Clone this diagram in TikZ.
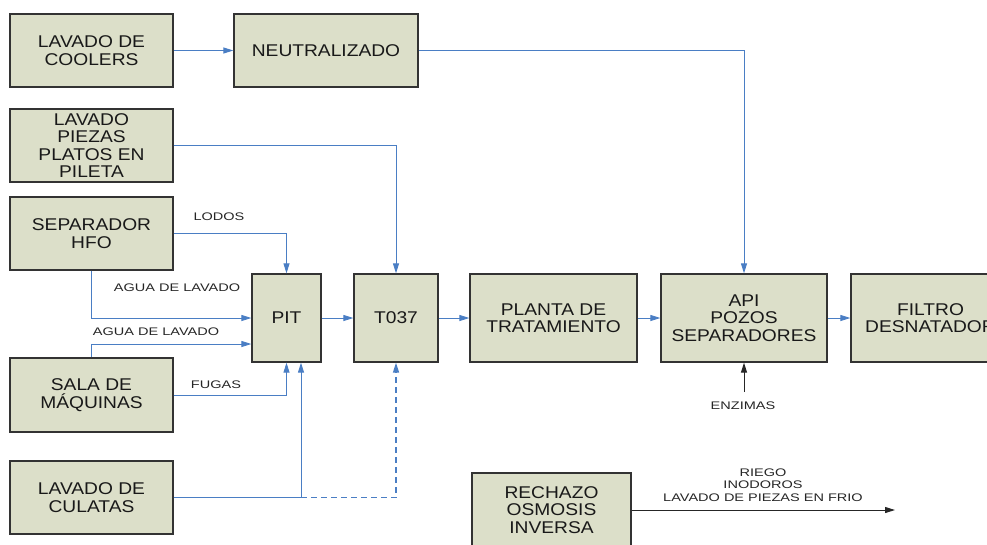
\documentclass[tikz,border=0pt]{standalone}
\usepackage{fontspec}
\setmainfont{Liberation Sans}
\newfontfamily\boxfont{Liberation Sans}[FakeStretch=1.13]
\newfontfamily\lblfont{Liberation Sans}[FakeStretch=1.32]
\usetikzlibrary{arrows.meta}
\definecolor{boxfill}{HTML}{DCDFC9}
\definecolor{boxline}{HTML}{333333}
\definecolor{flowblue}{HTML}{4A7EC4}
\tikzset{
  box/.style={draw=boxline, line width=1.3pt, fill=boxfill, rectangle, align=center,
    inner sep=2pt, font=\boxfont\fontsize{17}{17.5}\selectfont, text=black!90},
  lbl/.style={font=\lblfont\fontsize{11}{12.7}\selectfont, align=center, inner sep=0pt, text=black!85},
  flow/.style={draw=flowblue, line width=0.9pt, -{Triangle[length=10pt,width=6pt]}},
  flowline/.style={draw=flowblue, line width=0.9pt},
  blackflow/.style={draw=black!85, line width=1pt, -{Triangle[length=10pt,width=6pt]}}
}
\begin{document}
\begin{tikzpicture}[x=1pt,y=-1pt]
\useasboundingbox (0,0) rectangle (987,544);
\clip (0,0) rectangle (987,544);
% boxes
\node[box, minimum width=163pt, minimum height=73pt] (coolers) at (91.5,50.5) {LAVADO DE\\COOLERS};
\node[box, minimum width=184pt, minimum height=73pt] (neut) at (326,50.5) {NEUTRALIZADO};
\node[box, minimum width=163pt, minimum height=73pt] (piezas) at (91.5,145.5) {LAVADO\\PIEZAS\\PLATOS EN\\PILETA};
\node[box, minimum width=163pt, minimum height=73pt] (sep) at (91.5,233.5) {SEPARADOR\\HFO};
\node[box, minimum width=69pt, minimum height=88pt] (pit) at (286.5,318) {PIT};
\node[box, minimum width=84pt, minimum height=88pt] (t037) at (396,318) {T037};
\node[box, minimum width=167pt, minimum height=88pt] (planta) at (553.5,318) {PLANTA DE\\TRATAMIENTO};
\node[box, minimum width=166pt, minimum height=88pt] (api) at (744,318) {API\\POZOS\\SEPARADORES};
\node[box, minimum width=159pt, minimum height=88pt] (filtro) at (930.5,318) {FILTRO\\DESNATADOR};
\node[box, minimum width=163pt, minimum height=74pt] (sala) at (91.5,395) {SALA DE\\MÁQUINAS};
\node[box, minimum width=163pt, minimum height=73pt] (culatas) at (91.5,497.5) {LAVADO DE\\CULATAS};
\node[box, minimum width=159pt, minimum height=74pt] (rech) at (551.5,510) {RECHAZO\\OSMOSIS\\INVERSA};
% labels
\node[lbl] (llodos) at (219,217) {LODOS};
\node[lbl] (lagua1) at (177,288) {AGUA DE LAVADO};
\node[lbl] (lagua2) at (156,332) {AGUA DE LAVADO};
\node[lbl] (lfugas) at (216,385) {FUGAS};
\node[lbl] (lenz) at (743,406) {ENZIMAS};
\node[lbl] (lriego) at (763,485) {RIEGO\\INODOROS\\LAVADO DE PIEZAS EN FRIO};
% connectors
\draw[flow] (coolers) -- (neut);
\draw[flow] (neut.east) -| (api.north);
\draw[flow] (piezas.east) -| (t037.north);
\draw[flow] (sep.east) -| (pit.north);
\draw[flow] (sep.south) |- (pit.west);
\draw[flow] (sala.north) |- ([yshift=-26pt]pit.west);
\draw[flow] (sala.east) -| (pit.south);
\coordinate (j) at (301,497.5);
\draw[flowline] (culatas.east) -- (j);
\draw[flow] (j) -- ([xshift=14.5pt]pit.south);
\draw[flow, line width=1.4pt, dash pattern=on 6pt off 4pt] (j) -| (t037.south);
\draw[flow] (pit) -- (t037);
\draw[flow] (t037) -- (planta);
\draw[flow] (planta) -- (api);
\draw[flow] (api) -- (filtro);
\coordinate (enzs) at (744,392);
\draw[blackflow] (enzs) -- (api.south);
\coordinate (rend) at (895,510);
\draw[blackflow] (rech.east) -- (rend);
\end{tikzpicture}
\end{document}
